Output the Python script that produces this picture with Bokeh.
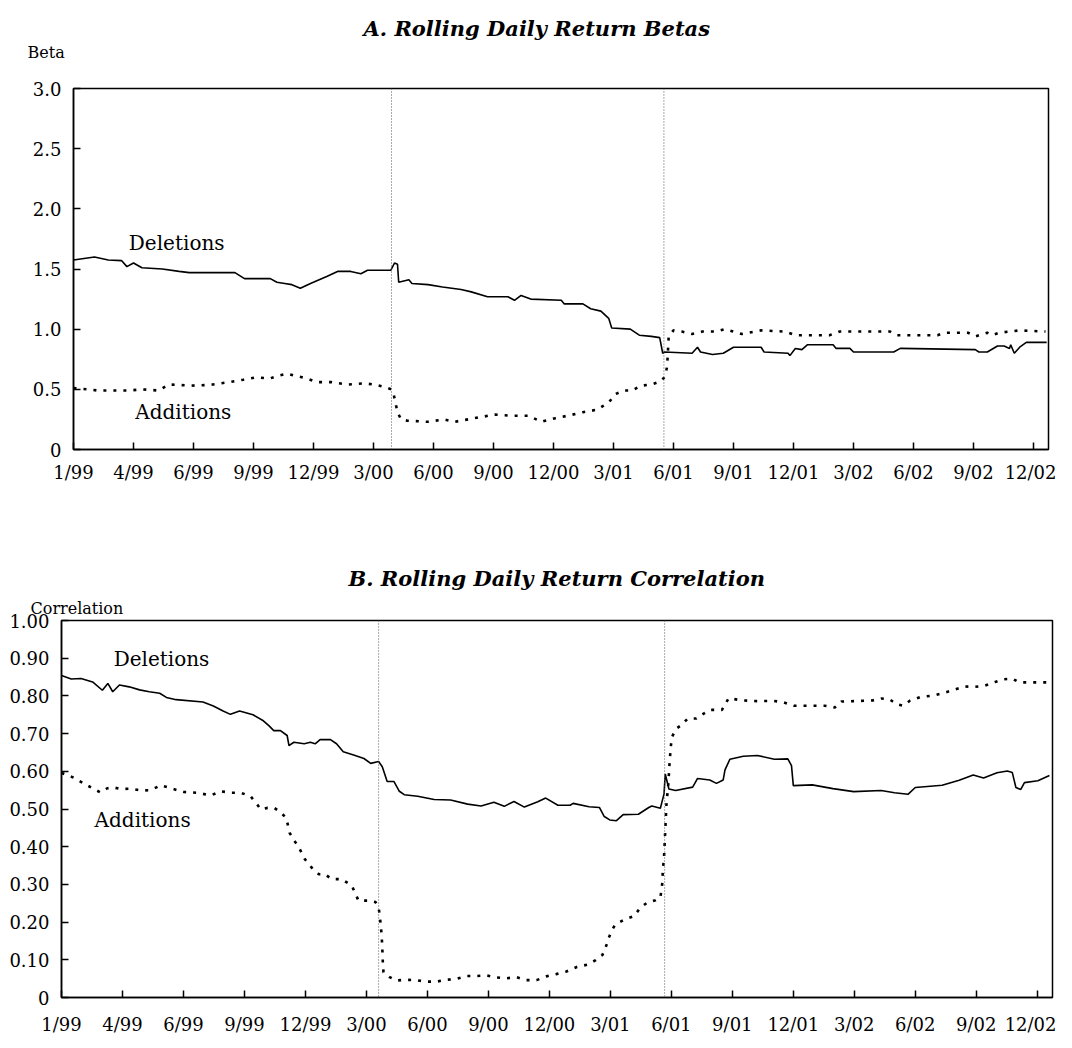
from bokeh.plotting import figure
from bokeh.models import Span, Label, FixedTicker, Range1d, PrintfTickFormatter, Title
from bokeh.layouts import column, row
from bokeh.embed import file_html
from bokeh.resources import INLINE

FONT = "DejaVu Serif"

x_labels = ["1/99", "4/99", "6/99", "9/99", "12/99", "3/00", "6/00", "9/00",
            "12/00", "3/01", "6/01", "9/01", "12/01", "3/02", "6/02", "9/02", "12/02"]

# ---- Panel A: rolling betas ----
a_del_x = [0.0, 0.35, 0.58, 0.80, 0.89, 1.0, 1.14, 1.48, 1.76, 1.93, 2.69, 2.85, 3.28, 3.39, 3.52,
           3.64, 3.78, 3.95, 4.23, 4.40, 4.62, 4.79, 4.90, 5.29, 5.35, 5.40, 5.42, 5.59, 5.64, 5.91,
           6.15, 6.46, 6.63, 6.90, 7.24, 7.35, 7.46, 7.62, 8.13, 8.18, 8.49, 8.62, 8.79, 8.92, 8.97,
           9.28, 9.43, 9.63, 9.77, 9.82, 9.85, 10.31, 10.40, 10.45, 10.65, 10.83, 11.0, 11.46, 11.51,
           11.91, 11.94, 12.03, 12.14, 12.23, 12.66, 12.71, 12.94, 13.0, 13.67, 13.78, 15.03, 15.09,
           15.23, 15.40, 15.51, 15.60, 15.62, 15.68, 15.77, 15.88, 16.22]
a_del_y = [1.575, 1.60, 1.575, 1.57, 1.52, 1.55, 1.51, 1.50, 1.48, 1.47, 1.47, 1.42, 1.42, 1.39, 1.38,
           1.37, 1.34, 1.38, 1.44, 1.48, 1.48, 1.46, 1.49, 1.49, 1.55, 1.54, 1.39, 1.41, 1.38, 1.37,
           1.35, 1.33, 1.31, 1.27, 1.27, 1.24, 1.28, 1.25, 1.24, 1.21, 1.21, 1.17, 1.15, 1.09, 1.01,
           1.00, 0.95, 0.94, 0.93, 0.80, 0.81, 0.80, 0.85, 0.81, 0.79, 0.80, 0.85, 0.85, 0.81,
           0.80, 0.78, 0.84, 0.83, 0.87, 0.87, 0.84, 0.84, 0.81, 0.81, 0.84, 0.83, 0.81,
           0.81, 0.86, 0.86, 0.84, 0.87, 0.80, 0.85, 0.89, 0.89]

a_add_x = [0.0, 0.24, 0.41, 0.63, 0.92, 1.14, 1.42, 1.59, 2.04, 2.32, 2.6, 2.83, 3.05, 3.27, 3.39,
           3.56, 3.72, 3.89, 4.06, 4.29, 4.57, 4.85, 5.01, 5.18, 5.30, 5.34, 5.37, 5.40, 5.46, 5.56,
           5.9, 6.18, 6.35, 6.68, 7.02, 7.3, 7.58, 7.8, 8.03, 8.23, 8.49, 8.72, 8.82, 8.92, 9.03,
           9.17, 9.31, 9.45, 9.63, 9.80, 9.86, 9.89, 9.90, 9.91, 9.92, 10.0, 10.14, 10.31, 10.48,
           10.71, 10.86, 11.0, 11.14, 11.46, 11.86, 12.03, 12.6, 12.77, 13.61, 13.72, 14.4, 14.51,
           14.91, 15.03, 15.23, 15.31, 15.43, 15.77, 16.2]
a_add_y = [0.51, 0.50, 0.49, 0.49, 0.49, 0.50, 0.49, 0.54, 0.53, 0.54, 0.56, 0.58, 0.60, 0.59, 0.61,
           0.63, 0.61, 0.59, 0.56, 0.56, 0.54, 0.55, 0.54, 0.52, 0.50, 0.45, 0.38, 0.31, 0.25, 0.24,
           0.23, 0.25, 0.23, 0.26, 0.29, 0.28, 0.28, 0.23, 0.26, 0.28, 0.31, 0.33, 0.36, 0.39, 0.46,
           0.49, 0.49, 0.53, 0.54, 0.57, 0.61, 0.68, 0.75, 0.84, 0.94, 0.99, 0.98, 0.96, 0.98,
           0.98, 1.00, 0.98, 0.96, 0.99, 0.98, 0.95, 0.95, 0.98, 0.98, 0.95, 0.95, 0.97,
           0.97, 0.94, 0.97, 0.95, 0.97, 0.99, 0.98]

a_events = [5.3, 9.84]
a_yticks = [0, 0.5, 1.0, 1.5, 2.0, 2.5, 3.0]

# ---- Panel B: rolling correlations ----
b_del_x = [0.0, 0.16, 0.32, 0.51, 0.67, 0.76, 0.84, 0.95, 1.11, 1.28, 1.44, 1.61, 1.72, 1.88, 2.32,
           2.49, 2.65, 2.77, 2.92, 3.14, 3.31, 3.40, 3.48, 3.59, 3.70, 3.73, 3.81, 3.98, 4.08, 4.16,
           4.24, 4.41, 4.51, 4.62, 4.79, 4.96, 5.07, 5.20, 5.26, 5.34, 5.45, 5.54, 5.62, 5.84, 6.11,
           6.38, 6.66, 6.88, 7.09, 7.26, 7.42, 7.59, 7.81, 7.94, 8.14, 8.34, 8.39, 8.65, 8.82, 8.90,
           8.99, 9.10, 9.21, 9.46, 9.63, 9.68, 9.82, 9.88, 9.90, 9.96, 10.07, 10.35, 10.43, 10.63,
           10.74, 10.85, 10.88, 10.96, 11.18, 11.41, 11.69, 11.91, 11.97, 12.0, 12.31, 12.65, 12.99,
           13.44, 13.66, 13.88, 14.0, 14.44, 14.72, 14.95, 15.12, 15.34, 15.51, 15.59, 15.65, 15.73,
           15.79, 16.01, 16.2]
b_del_y = [0.854, 0.845, 0.846, 0.837, 0.815, 0.833, 0.811, 0.829, 0.824, 0.816, 0.811, 0.807, 0.796,
           0.790, 0.784, 0.773, 0.760, 0.751, 0.760, 0.750, 0.734, 0.721, 0.708, 0.708, 0.695, 0.668,
           0.677, 0.673, 0.677, 0.673, 0.684, 0.684, 0.673, 0.652, 0.643, 0.634, 0.621, 0.626, 0.612,
           0.573, 0.573, 0.547, 0.538, 0.534, 0.525, 0.524, 0.513, 0.508, 0.518, 0.507, 0.520, 0.505,
           0.519, 0.529, 0.510, 0.510, 0.515, 0.506, 0.504, 0.480, 0.471, 0.469, 0.485, 0.486, 0.504,
           0.508, 0.502, 0.540, 0.593, 0.553, 0.549, 0.558, 0.581, 0.577, 0.568, 0.577, 0.604, 0.632,
           0.640, 0.642, 0.632, 0.633, 0.615, 0.562, 0.564, 0.554, 0.546, 0.549, 0.543, 0.539, 0.557,
           0.563, 0.576, 0.590, 0.582, 0.596, 0.601, 0.597, 0.557, 0.552, 0.570, 0.575, 0.589]

b_add_x = [0.0, 0.2, 0.34, 0.53, 0.64, 0.75, 0.86, 0.97, 1.13, 1.30, 1.46, 1.63, 1.79, 2.01, 2.23,
           2.45, 2.61, 2.78, 2.94, 3.10, 3.27, 3.38, 3.49, 3.60, 3.68, 3.71, 3.74, 3.82, 3.88, 3.99,
           4.10, 4.22, 4.32, 4.43, 4.59, 4.76, 4.82, 4.87, 5.04, 5.15, 5.20, 5.23, 5.25, 5.26, 5.27,
           5.28, 5.38, 5.49, 5.65, 5.82, 5.98, 6.15, 6.31, 6.47, 6.64, 6.80, 6.96, 7.13, 7.29, 7.46,
           7.62, 7.79, 7.95, 8.11, 8.28, 8.45, 8.62, 8.76, 8.87, 8.92, 8.97, 9.03, 9.08, 9.22, 9.39,
           9.49, 9.60, 9.74, 9.82, 9.85, 9.86, 9.88, 9.89, 9.90, 9.91, 9.92, 9.95, 9.97, 9.99, 10.01,
           10.08, 10.16, 10.27, 10.41, 10.49, 10.63, 10.83, 10.94, 11.16, 11.44, 11.67, 11.84, 12.01,
           12.51, 12.68, 12.79, 13.30, 13.44, 13.58, 13.69, 13.80, 13.91, 14.08, 14.30, 14.53, 14.81,
           14.97, 15.14, 15.31, 15.45, 15.59, 15.70, 15.87, 16.2]
b_add_y = [0.596, 0.583, 0.570, 0.553, 0.544, 0.555, 0.557, 0.553, 0.554, 0.549, 0.550, 0.563, 0.555,
           0.545, 0.543, 0.536, 0.547, 0.543, 0.543, 0.534, 0.499, 0.503, 0.503, 0.490, 0.477, 0.459,
           0.437, 0.415, 0.402, 0.367, 0.345, 0.327, 0.327, 0.314, 0.314, 0.297, 0.275, 0.257, 0.257,
           0.253, 0.240, 0.200, 0.164, 0.133, 0.089, 0.067, 0.054, 0.045, 0.047, 0.046, 0.042, 0.042,
           0.047, 0.049, 0.057, 0.057, 0.059, 0.053, 0.051, 0.054, 0.046, 0.046, 0.056, 0.062, 0.069,
           0.081, 0.087, 0.099, 0.113, 0.131, 0.157, 0.180, 0.193, 0.206, 0.216, 0.238, 0.251, 0.258,
           0.265, 0.301, 0.336, 0.372, 0.407, 0.443, 0.478, 0.513, 0.566, 0.620, 0.664, 0.691, 0.713,
           0.722, 0.740, 0.740, 0.749, 0.763, 0.763, 0.794, 0.788, 0.786, 0.787, 0.783, 0.774, 0.774,
           0.769, 0.785, 0.788, 0.793, 0.791, 0.778, 0.774, 0.787, 0.797, 0.801, 0.811, 0.825, 0.824,
           0.827, 0.837, 0.844, 0.846, 0.836, 0.836, 0.836]

b_events = [5.2, 9.89]
b_yticks = [0, 0.1, 0.2, 0.3, 0.4, 0.5, 0.6, 0.7, 0.8, 0.9, 1.0]


def panel(height, top, bottom, left, right, ymax, yticks, yfmt, xstand,
          dx, dy, ax, ay, title, title_off, title_stand, ylab, ylab_off, ylab_stand, spacer,
          del_pos, add_pos, events):
    p = figure(width=1056, height=height, x_range=Range1d(0, 16.25), y_range=Range1d(0, ymax),
               output_backend="svg", toolbar_location=None,
               min_border_top=top, min_border_bottom=bottom,
               min_border_left=left, min_border_right=right)
    p.grid.visible = False
    p.background_fill_color = "white"
    p.border_fill_color = "white"
    p.outline_line_color = "black"
    p.outline_line_width = 1.5

    xa = p.xaxis[0]
    xa.ticker = FixedTicker(ticks=list(range(len(x_labels))))
    xa.major_label_overrides = {i: s for i, s in enumerate(x_labels)}
    ya = p.yaxis[0]
    ya.ticker = FixedTicker(ticks=yticks)
    ya.formatter = PrintfTickFormatter(format=yfmt)
    ya.major_label_overrides = {0: "0"}
    for a in (xa, ya):
        a.axis_line_color = "black"
        a.axis_line_width = 1.5
        a.major_tick_in = 7
        a.major_tick_out = 0
        a.major_tick_line_width = 1.5
        a.minor_tick_line_color = None
        a.major_label_text_font = FONT
        a.major_label_text_font_size = "18px"
        a.major_label_text_color = "black"
    xa.major_label_standoff = xstand
    ya.major_label_standoff = 12

    for e in events:
        p.add_layout(Span(location=e, dimension="height", line_color="#555555",
                          line_width=1, line_dash="1 2"))

    p.line(dx, dy, line_color="black", line_width=1.6)
    p.line(ax, ay, line_color="black", line_width=2.6, line_dash="3 7")

    p.add_layout(Label(x=del_pos[0], y=del_pos[1], text="Deletions", text_font=FONT,
                       text_color="black",
                       text_font_size="20px", text_align="center", text_baseline="middle"))
    p.add_layout(Label(x=add_pos[0], y=add_pos[1], text="Additions", text_font=FONT,
                       text_color="black",
                       text_font_size="20px", text_align="center", text_baseline="middle"))

    if spacer is not None:
        # blank (no-break space) title: only reserves vertical room between frame and "Beta"
        p.add_layout(Title(text="\u00a0", align="left", standoff=spacer, text_font=FONT,
                           text_font_size="16px", text_color="black"), "above")
    p.add_layout(Title(text=ylab, align="left", offset=ylab_off, standoff=ylab_stand,
                       text_font=FONT, text_font_size="16px", text_font_style="normal",
                       text_color="black"), "above")
    p.add_layout(Title(text=title, align="left", offset=title_off, standoff=title_stand,
                       text_font=FONT, text_font_size="21px", text_font_style="bold italic",
                       text_color="black"), "above")
    return p


pa = panel(528, 88, 79, 73, 8, 3.0, a_yticks, "%.1f", 12,
           a_del_x, a_del_y, a_add_x, a_add_y,
           "A. Rolling Daily Return Betas", 290, 0, "Beta", -46, 0, 6,
           (1.72, 1.72), (1.83, 0.31), a_events)
pb = panel(512, 92, 43, 61, 4, 1.0, b_yticks, "%.2f", 16,
           b_del_x, b_del_y, b_add_x, b_add_y,
           "B. Rolling Daily Return Correlation", 287, 6, "Correlation", -31, 6, None,
           (1.64, 0.897), (1.33, 0.47), b_events)

layout = column(pa, row(pb), spacing=0)
open("out.html", "w").write(file_html(layout, INLINE))
